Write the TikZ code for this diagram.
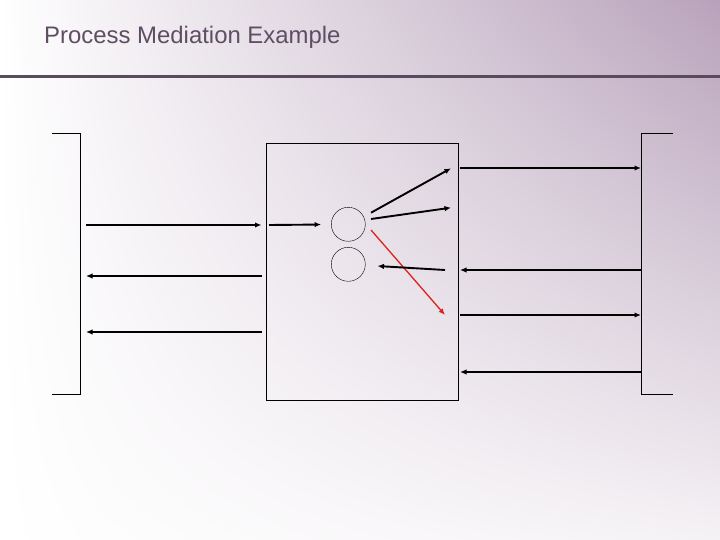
\documentclass[tikz,border=0pt]{standalone}
\usepackage{fontspec}
\newfontfamily\titlefont{Liberation Sans}
\usepackage{tikz}
\usetikzlibrary{arrows.meta, shadings}
\definecolor{slidepurple}{HTML}{B8A2BB}
\definecolor{slidepale}{HTML}{F5F2F5}
\definecolor{titlegrey}{HTML}{5F4D64}
\definecolor{ruleline}{HTML}{594A5E}
\definecolor{redflow}{HTML}{E0201E}
\tikzset{
  flow/.style={line width=1.9bp, -{Latex[length=6.5bp,width=5.5bp]}},
  party/.style={line width=0.9bp},
  proc/.style={circle, draw, thin, minimum size=34bp, inner sep=0pt}
}

\begin{document}
\begin{tikzpicture}[x=1bp, y=-1bp]
  % Background
  \shade[upper left=white, upper right=slidepurple, lower left=white, lower right=slidepale]
    (0,0) rectangle (720,540);
  \useasboundingbox (0,0) rectangle (720,540);

  % Title and rule
  \node[anchor=base west, inner sep=0pt, text=titlegrey, font=\titlefont\fontsize{24}{28}\selectfont]
    (title) at (44,44) {Process Mediation Example};
  \draw[ruleline, line width=3bp] (0,76.5) -- (720,76.5);

  % Left and right parties
  \draw[party] (52,133) -- (80.5,133) -- (80.5,394) -- (52,394);
  \draw[party] (673,133) -- (641.5,133) -- (641.5,394) -- (673,394);

  % Mediator with its two processes
  \node[draw, thin, anchor=north west, minimum width=192bp, minimum height=257bp, inner sep=0pt]
    (mediator) at (265.5,143) {};
  \node[proc] (procA) at (348.3,224.3) {};
  \node[proc] (procB) at (348.3,264.3) {};

  % Ends of the messages
  \foreach \n/\y in {a/225,b/276,c/332} {
    \coordinate (left\n) at (86,\y);
    \coordinate (mid\n) at (261.5,\y);
  }
  \foreach \n/\y in {a/168,b/270,c/315,d/372} {
    \coordinate (inner\n) at (460,\y);
    \coordinate (right\n) at (641,\y);
  }
  \coordinate (entry) at (269,225);
  \coordinate (fanA) at (371,212.7);
  \coordinate (fanB) at (371,219);
  \coordinate (fanC) at (371,230);
  \coordinate (outA) at (451,168.3);
  \coordinate (outB) at (451,207.7);
  \coordinate (outC) at (445,315);
  \coordinate (back) at (445,270);

  % Messages on the left
  \draw[flow] (lefta) -- (mida);
  \draw[flow] (midb) -- (leftb);
  \draw[flow] (midc) -- (leftc);

  % Inside the mediator
  \draw[flow, shorten >=10bp] (entry) -- (procA);
  \draw[flow] (fanA) -- (outA);
  \draw[flow] (fanB) -- (outB);
  \draw[flow, redflow, line width=1.3bp] (fanC) -- (outC);
  \draw[flow, shorten >=12bp] (back) -- (procB);

  % Messages on the right
  \draw[flow] (innera) -- (righta);
  \draw[flow] (rightb) -- (innerb);
  \draw[flow] (innerc) -- (rightc);
  \draw[flow] (rightd) -- (innerd);
\end{tikzpicture}
\end{document}
